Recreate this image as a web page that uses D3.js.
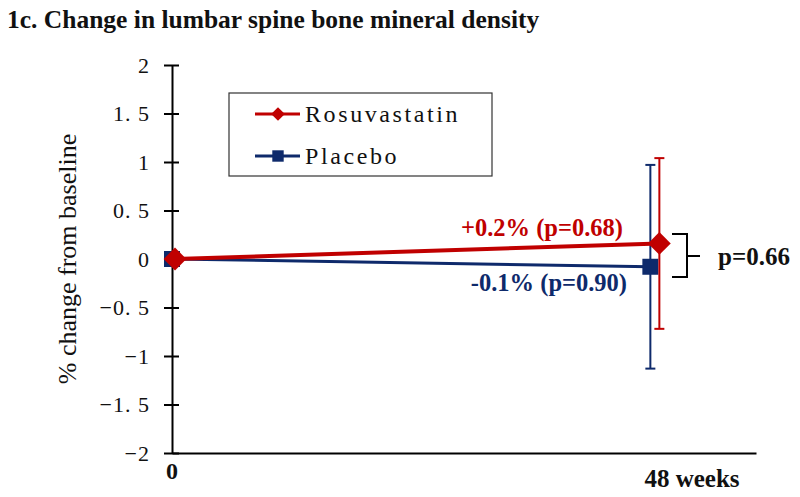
<!DOCTYPE html>
<html><head><meta charset="utf-8">
<script src="https://cdn.jsdelivr.net/npm/d3@7"></script>
<style>body{margin:0;background:#fff}svg{display:block}</style>
</head><body>
<script>
// ---- data ----
const weeks = [0, 48];
const rosuMean = [0, 0.16];
const rosuErr = [0, 0.88];
const placMean = [0, -0.08];
const placErr = [0, 1.05];
const yTicks = [2, 1.5, 1, 0.5, 0, -0.5, -1, -1.5, -2];
const xTickLabels = ["0", "48 weeks"];
const seriesNames = ["Rosuvastatin", "Placebo"];
const annotations = ["+0.2% (p=0.68)", "-0.1% (p=0.90)", "p=0.66"];
const titleText = "1c. Change in lumbar spine bone mineral density";
const yTitle = "% change from baseline";

const W = 800, H = 497;
const RED = "#c00000", BLUE = "#0e2a6b";
const svg = d3.select("body").append("svg").attr("width", W).attr("height", H);

const x = d3.scaleLinear().domain([0, 58.6]).range([172, 756]);
const y = d3.scaleLinear().domain([-2, 2]).range([453, 65]);
const serif = "'Liberation Serif', 'DejaVu Serif', serif";

svg.append("text").attr("x", 7).attr("y", 28).text(titleText)
  .attr("font-family", serif).attr("font-weight", "bold").attr("font-size", 25.5).attr("fill", "#111");

// y axis
const yAxis = d3.axisLeft(y).tickValues(yTicks).tickSize(0)
  .tickFormat(d => d3.format("")(d).replace("-", "\u2212").replace(".", ". "));
const gy = svg.append("g").attr("transform", "translate(172,0)").call(yAxis);
gy.select(".domain").attr("stroke", "#000").attr("stroke-width", 2);
gy.selectAll(".tick line").attr("x1", -8).attr("x2", 7).attr("stroke", "#000").attr("stroke-width", 2);
gy.selectAll(".tick text").attr("x", -22).attr("font-family", serif).attr("font-size", 22).attr("fill", "#111")
  .attr("letter-spacing", 1).style("white-space", "pre");

// x axis
const xAxis = d3.axisBottom(x).tickValues([]).tickSize(0);
const gx = svg.append("g").attr("transform", "translate(0,453)").call(xAxis);
gx.select(".domain").attr("stroke", "#000").attr("stroke-width", 2);
svg.append("text").attr("x", x(weeks[0])).attr("y", 479).attr("text-anchor", "middle").text(xTickLabels[0])
  .attr("font-family", serif).attr("font-weight", "bold").attr("font-size", 24).attr("fill", "#111");
svg.append("text").attr("x", 692).attr("y", 487).attr("text-anchor", "middle").text(xTickLabels[1])
  .attr("font-family", serif).attr("font-weight", "bold").attr("font-size", 25).attr("fill", "#111");

// y title
svg.append("text").attr("transform", `translate(76,${y(0)}) rotate(-90)`).attr("text-anchor", "middle")
  .text(yTitle).attr("font-family", serif).attr("font-size", 26).attr("fill", "#111");

// series
const series = [
  {name: seriesNames[0], mean: rosuMean, err: rosuErr, color: RED, dx: [3, 9], lw: 4, shape: "diamond"},
  {name: seriesNames[1], mean: placMean, err: placErr, color: BLUE, dx: [0, 0], lw: 3, shape: "square"}
];
[series[1], series[0]].forEach(s => {
  const pts = weeks.map((w, i) => ({px: x(w) + s.dx[i], m: s.mean[i], e: s.err[i]}));
  pts.filter(p => p.e > 0).forEach(p => {
    const g = svg.append("g").attr("stroke", s.color).attr("stroke-width", 2);
    g.append("line").attr("x1", p.px).attr("x2", p.px).attr("y1", y(p.m + p.e)).attr("y2", y(p.m - p.e));
    g.append("line").attr("x1", p.px - 5).attr("x2", p.px + 5).attr("y1", y(p.m + p.e)).attr("y2", y(p.m + p.e));
    g.append("line").attr("x1", p.px - 5).attr("x2", p.px + 5).attr("y1", y(p.m - p.e)).attr("y2", y(p.m - p.e));
  });
  svg.append("path").datum(pts).attr("fill", "none").attr("stroke", s.color).attr("stroke-width", s.lw)
    .attr("d", d3.line().x(p => p.px).y(p => y(p.m)));
  const sym = s.shape === "diamond" ? d3.symbol().type(d3.symbolDiamond2).size(330) : d3.symbol().type(d3.symbolSquare).size(256);
  svg.selectAll(null).data(pts).enter().append("path").attr("d", sym)
    .attr("transform", p => `translate(${p.px},${y(p.m)})`).attr("fill", s.color);
});

// annotations
svg.append("text").attr("x", 623).attr("y", 236).attr("text-anchor", "end").text(annotations[0])
  .attr("font-family", serif).attr("font-weight", "bold").attr("font-size", 24.5).attr("fill", RED);
svg.append("text").attr("x", 627).attr("y", 291).attr("text-anchor", "end").text(annotations[1])
  .attr("font-family", serif).attr("font-weight", "bold").attr("font-size", 24.5).attr("fill", BLUE);
svg.append("path").attr("d", "M672,234 H687 V277 H672 M687,256 H700").attr("fill", "none")
  .attr("stroke", "#000").attr("stroke-width", 2);
svg.append("text").attr("x", 718).attr("y", 265).text(annotations[2])
  .attr("font-family", serif).attr("font-weight", "bold").attr("font-size", 25).attr("fill", "#111");

// legend
const lg = svg.append("g");
lg.append("rect").attr("x", 229).attr("y", 93).attr("width", 263).attr("height", 83)
  .attr("fill", "#fff").attr("stroke", "#333").attr("stroke-width", 1.2);
series.forEach((s, i) => {
  const ly = 114 + i * 42;
  lg.append("line").attr("x1", 255).attr("x2", 300).attr("y1", ly).attr("y2", ly).attr("stroke", s.color).attr("stroke-width", 3);
  const sym = s.shape === "diamond" ? d3.symbol().type(d3.symbolDiamond2).size(120) : d3.symbol().type(d3.symbolSquare).size(130);
  lg.append("path").attr("d", sym).attr("transform", `translate(278,${ly})`).attr("fill", s.color);
  lg.append("text").attr("x", 305).attr("y", ly + 8).text(s.name)
    .attr("font-family", serif).attr("font-size", 24).attr("letter-spacing", 2.6).attr("fill", "#111");
});
</script>
</body></html>
